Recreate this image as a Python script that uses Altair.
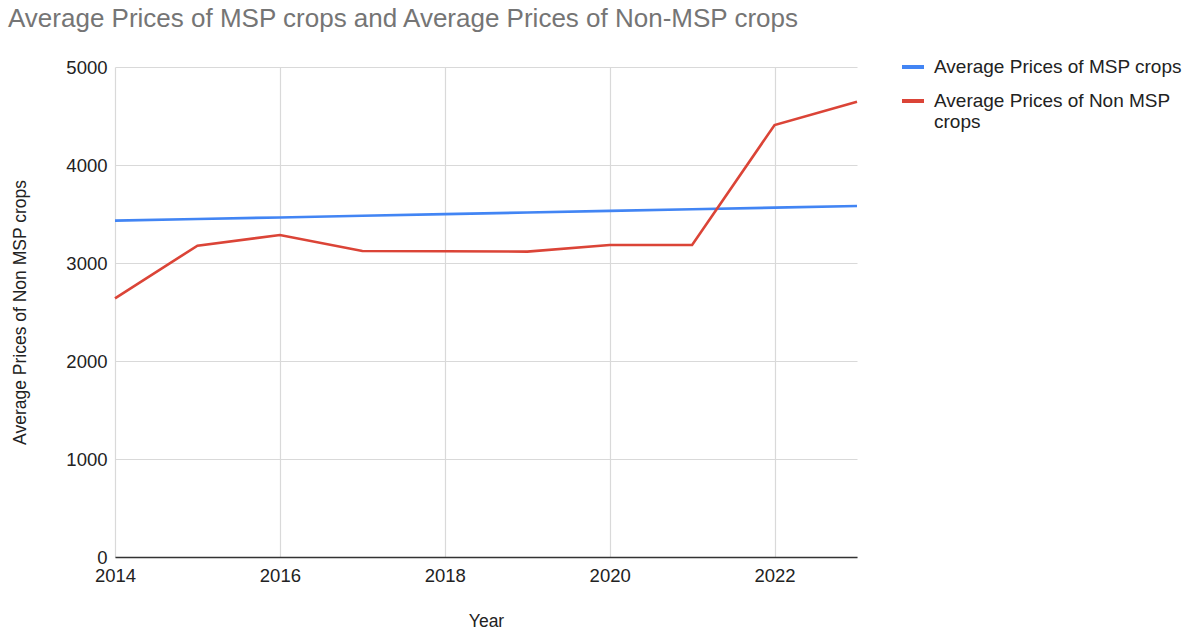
import altair as alt
import pandas as pd

years = [2014, 2015, 2016, 2017, 2018, 2019, 2020, 2021, 2022, 2023]
msp_avg = [3432, 3449, 3465, 3482, 3499, 3515, 3532, 3549, 3565, 3582]
non_msp_avg = [2640, 3177, 3286, 3122, 3120, 3116, 3184, 3184, 4408, 4646]

series_names = ["Average Prices of MSP crops", "Average Prices of Non MSP crops"]
series_colors = ["#4285F4", "#DB4437"]

rows = []
for y, a, b in zip(years, msp_avg, non_msp_avg):
    rows.append({"Year": y, "Series": series_names[0], "Price": a})
    rows.append({"Year": y, "Series": series_names[1], "Price": b})
df = pd.DataFrame(rows)

FONT = "Liberation Sans"

chart = (
    alt.Chart(df)
    .mark_line(strokeWidth=2.6)
    .encode(
        x=alt.X(
            "Year:Q",
            scale=alt.Scale(domain=[2014, 2023], nice=False, zero=False),
            axis=alt.Axis(
                values=[2014, 2016, 2018, 2020, 2022],
                format="d",
                title="Year",
                titlePadding=28,
                labelPadding=9,
                labelFlush=False,
                ticks=False,
                domainColor="#333333",
                domainWidth=1.5,
            ),
        ),
        y=alt.Y(
            "Price:Q",
            scale=alt.Scale(domain=[0, 5000], nice=False),
            axis=alt.Axis(
                values=[0, 1000, 2000, 3000, 4000, 5000],
                format="d",
                title="Average Prices of Non MSP crops",
                titlePadding=36,
                labelPadding=8,
                ticks=False,
                domain=False,
            ),
        ),
        color=alt.Color(
            "Series:N",
            scale=alt.Scale(domain=series_names, range=series_colors),
            legend=alt.Legend(
                title=None,
                orient="none",
                legendX=785,
                legendY=-13,
                symbolType="stroke",
                symbolStrokeWidth=4,
                symbolSize=484,
                labelFont=FONT,
                labelFontSize=19,
                labelColor="#222222",
                labelLimit=400,
                rowPadding=11,
                labelOffset=8,
                labelExpr="datum.label == 'Average Prices of Non MSP crops' ? ['Average Prices of Non MSP', 'crops'] : datum.label",
            ),
        ),
    )
    .properties(
        width=742,
        height=490,
        title=alt.TitleParams(
            "Average Prices of MSP crops and Average Prices of Non-MSP crops",
            anchor="start",
            frame="group",
            dx=-107,
            offset=22,
            font=FONT,
            fontSize=26,
            fontWeight="normal",
            color="#757575",
        ),
        autosize=alt.AutoSizeParams(type="none"),
        padding={"left": 115, "top": 67, "right": 341, "bottom": 74},
    )
    .configure(background="white")
    .configure_view(stroke=None)
    .configure_axis(
        labelFont=FONT,
        labelFontSize=18.5,
        labelColor="#222222",
        titleFont=FONT,
        titleFontSize=17.5,
        titleFontWeight="normal",
        titleColor="#222222",
        gridColor="#d9d9d9",
        gridWidth=1.2,
    )
)

chart.save("out.html", embed_options={"renderer": "svg", "actions": False})
